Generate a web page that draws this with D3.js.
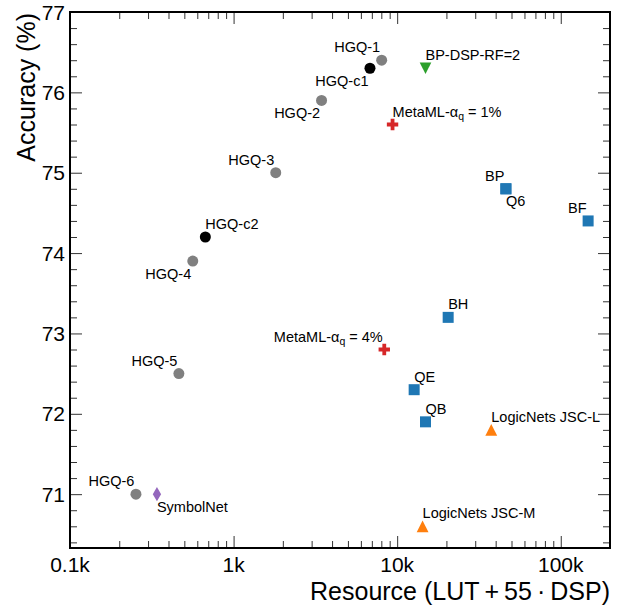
<!DOCTYPE html>
<html>
<head>
<meta charset="utf-8">
<script src="https://cdn.jsdelivr.net/npm/d3@7"></script>
<style>
body { margin: 0; background: #fff; }
text { font-family: "Liberation Sans", Arial, sans-serif; }
</style>
</head>
<body>
<div id="vis"></div>
<script>
// data
var names    = ["HGQ-1","HGQ-c1","HGQ-2","HGQ-3","HGQ-c2","HGQ-4","HGQ-5","HGQ-6",
                "SymbolNet","BP-DSP-RF=2","MetaML-1","MetaML-4",
                "BP","Q6","BF","BH","QE","QB",
                "LogicNets JSC-L","LogicNets JSC-M"];
var resource = [8040, 6820, 3450, 1810, 672, 563, 463, 253,
                340, 14900, 9370, 8340,
                46200, 46200, 147000, 20500, 12700, 14900,
                37600, 14300];
var accuracy = [76.4, 76.3, 75.9, 75.0, 74.2, 73.9, 72.5, 71.0,
                71.0, 76.3, 75.6, 72.8,
                74.8, 74.8, 74.4, 73.2, 72.3, 71.9,
                71.8, 70.6];
var group    = ["hgq","hgqc","hgq","hgq","hgqc","hgq","hgq","hgq",
                "symbolnet","bpdsp","metaml","metaml",
                "hls4ml","hls4ml","hls4ml","hls4ml","hls4ml","hls4ml",
                "logicnets","logicnets"];
// where each label sits: a = above, b = below, l = left, r = right
var labelSide = ["al","bl","bl","al","ar","bl","al","al",
                 "br","ar","ar","al",
                 "al","br","al","ar","ar","ar",
                 "ar","ar"];

var xTicks = [100, 1000, 10000, 100000];
var xTickLabels = ["0.1k", "1k", "10k", "100k"];
var yTicks = [71, 72, 73, 74, 75, 76, 77];

var data = names.map((n, i) => ({name: n, x: resource[i], y: accuracy[i], g: group[i], side: labelSide[i]}));

var w = 630, h = 605;
var pLeft = 70, pRight = 610, pTop = 12, pBottom = 548;

var svg = d3.select("#vis").append("svg")
  .attr("width", w).attr("height", h);

var x = d3.scaleLog().domain([100, 200000]).range([pLeft, pRight]);
var y = d3.scaleLinear().domain([70.33, 77]).range([pBottom, pTop]);

// triangles centred on their bounding box, like matplotlib's markers
var triUp = {draw: function(ctx, size) {
  var s = Math.sqrt(size);
  ctx.moveTo(0, -s / 2); ctx.lineTo(s / 2, s / 2); ctx.lineTo(-s / 2, s / 2); ctx.closePath();
}};
var triDown = {draw: function(ctx, size) {
  var s = Math.sqrt(size);
  ctx.moveTo(0, s / 2); ctx.lineTo(s / 2, -s / 2); ctx.lineTo(-s / 2, -s / 2); ctx.closePath();
}};

var colors = {hgq: "#808080", hgqc: "#000000", symbolnet: "#9467bd", bpdsp: "#2ca02c",
              metaml: "#d62728", hls4ml: "#1f77b4", logicnets: "#ff7f0e"};
var shapes = {hgq: d3.symbolCircle, hgqc: d3.symbolCircle, symbolnet: d3.symbolDiamond,
              bpdsp: triDown, metaml: d3.symbolCross, hls4ml: d3.symbolSquare,
              logicnets: triUp};
var sizes = {hgq: 95, hgqc: 95, symbolnet: 60, bpdsp: 135, metaml: 72, hls4ml: 121, logicnets: 140};

// minor ticks
var xMinor = [];
[100, 1000, 10000, 100000].forEach(d => { for (var k = 2; k <= 9; k++) if (d * k < 200000) xMinor.push(d * k); });
var yMinor = d3.range(70.4, 77.0, 0.2).filter(v => Math.abs(v - Math.round(v)) > 0.01);

// axes on all four sides, ticks pointing in
var axB = svg.append("g").attr("transform", `translate(0,${pBottom})`);
axB.call(d3.axisTop(x).tickValues(xTicks).tickSize(12).tickFormat("").tickSizeOuter(0));
axB.append("g").call(d3.axisTop(x).tickValues(xMinor).tickSize(7).tickFormat("").tickSizeOuter(0));
var axT = svg.append("g").attr("transform", `translate(0,${pTop})`);
axT.call(d3.axisBottom(x).tickValues(xTicks).tickSize(12).tickFormat("").tickSizeOuter(0));
axT.append("g").call(d3.axisBottom(x).tickValues(xMinor).tickSize(7).tickFormat("").tickSizeOuter(0));
var axL = svg.append("g").attr("transform", `translate(${pLeft},0)`);
axL.call(d3.axisRight(y).tickValues(yTicks).tickSize(12).tickFormat("").tickSizeOuter(0));
axL.append("g").call(d3.axisRight(y).tickValues(yMinor).tickSize(7).tickFormat("").tickSizeOuter(0));
var axR = svg.append("g").attr("transform", `translate(${pRight},0)`);
axR.call(d3.axisLeft(y).tickValues(yTicks).tickSize(12).tickFormat("").tickSizeOuter(0));
axR.append("g").call(d3.axisLeft(y).tickValues(yMinor).tickSize(7).tickFormat("").tickSizeOuter(0));
svg.selectAll(".domain").remove();
svg.selectAll(".tick line").attr("stroke", "#333").attr("stroke-width", 1);

svg.append("rect")
  .attr("x", pLeft).attr("y", pTop)
  .attr("width", pRight - pLeft).attr("height", pBottom - pTop)
  .attr("fill", "none").attr("stroke", "#000").attr("stroke-width", 2);

// tick labels
svg.selectAll(".xlab").data(xTicks).enter().append("text")
  .attr("x", d => x(d)).attr("y", pBottom + 24)
  .attr("text-anchor", "middle").attr("font-size", 21)
  .text((d, i) => xTickLabels[i]);
svg.selectAll(".ylab").data(yTicks).enter().append("text")
  .attr("x", pLeft - 5).attr("y", d => y(d) + 7.5)
  .attr("text-anchor", "end").attr("font-size", 21)
  .text(d => d);

// axis titles
svg.append("text").attr("x", pRight).attr("y", 600)
  .attr("text-anchor", "end").attr("font-size", 25)
  .text("Resource (LUT\u2009+\u200955\u2009\u00b7\u2009DSP)");
svg.append("text").attr("transform", `translate(35,${pTop + 1}) rotate(-90)`)
  .attr("text-anchor", "end").attr("font-size", 25)
  .text("Accuracy (%)");

// points
svg.selectAll(".pt").data(data).enter().append("path")
  .attr("transform", d => `translate(${x(d.x)},${y(d.y)})`)
  .attr("d", d => d3.symbol().type(shapes[d.g]).size(sizes[d.g])())
  .attr("fill", d => colors[d.g]);

// labels
var lab = svg.selectAll(".lbl").data(data).enter().append("text")
  .attr("font-size", 14.5)
  .attr("x", d => x(d.x) + (d.side[1] === "l" ? -1.5 : 0))
  .attr("y", d => y(d.y) + (d.side[0] === "a" ? -8 : 17.5))
  .attr("text-anchor", d => d.side[1] === "l" ? "end" : "start");
lab.each(function(d) {
  var t = d3.select(this);
  if (d.g === "metaml") {
    t.append("tspan").text("MetaML-\u03b1");
    t.append("tspan").attr("font-size", 10.5).attr("dy", 3).text("q");
    t.append("tspan").attr("dy", -3).text(" = " + d.name.split("-")[1] + "%");
  } else {
    t.text(d.name);
  }
});
</script>
</body>
</html>
